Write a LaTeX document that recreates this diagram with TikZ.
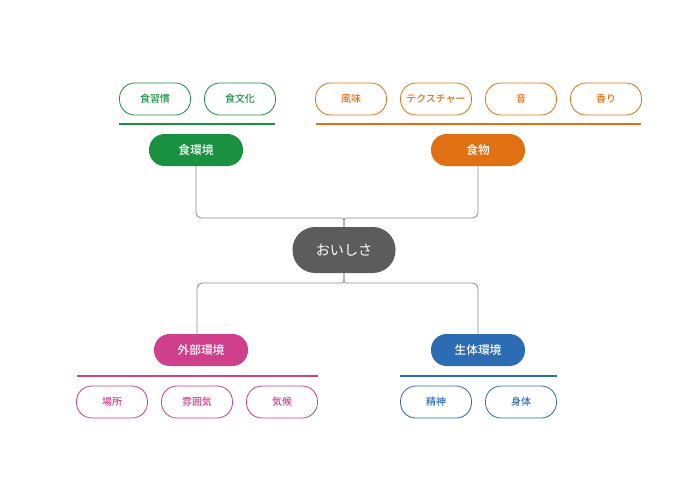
\documentclass[tikz,border=0pt]{standalone}
\usepackage{fontspec}
\setmainfont{Noto Sans CJK JP}
\newfontfamily\medfont{Noto Sans CJK JP}[UprightFont={* Medium}]
\usetikzlibrary{calc}
\definecolor{kgreen}{HTML}{1A9140}
\definecolor{korange}{HTML}{E07012}
\definecolor{kmagenta}{HTML}{CF3F8C}
\definecolor{kblue}{HTML}{2B6CB3}
\definecolor{hubgray}{HTML}{5C5C5C}
\definecolor{linkgray}{HTML}{8A8A8A}
\begin{document}
\begin{tikzpicture}[x=0.03cm,y=-0.03cm,
  hub/.style={fill=hubgray,text=white,rounded corners=0.68cm,minimum width=3.09cm,minimum height=1.38cm,inner sep=0pt,font=\fontsize{12}{14}\selectfont},
  cat/.style={fill=#1,text=white,rounded corners=0.47cm,minimum width=2.82cm,minimum height=0.96cm,inner sep=0pt,font=\medfont\fontsize{10}{12}\selectfont},
  leaf/.style={draw=#1,text=#1,line width=0.7pt,rounded corners=0.46cm,minimum width=2.13cm,minimum height=0.96cm,inner sep=0pt,font=\medfont\fontsize{8.5}{10}\selectfont},
  bar/.style={line width=2.3pt},
  link/.style={draw=linkgray,line width=0.7pt}]
  \useasboundingbox (0,0) rectangle (700,500);
  % centre and the four groups
  \node[hub] (oishisa) at (344,250) {おいしさ};
  \node[cat=kgreen] (shokukankyo) at (196,150) {食環境};
  \node[cat=korange] (shokumotsu) at (478,150) {食物};
  \node[cat=kmagenta] (gaibu) at (201,350) {外部環境};
  \node[cat=kblue] (seitai) at (478,350) {生体環境};
  % leaves
  \node[leaf=kgreen] (shukan) at (155,99) {食習慣};
  \node[leaf=kgreen] (bunka) at (240,99) {食文化};
  \node[leaf=korange] (fumi) at (351,99) {風味};
  \node[leaf=korange] (texture) at (436,99) {テクスチャー};
  \node[leaf=korange] (oto) at (521,99) {音};
  \node[leaf=korange] (kaori) at (606,99) {香り};
  \node[leaf=kmagenta] (basho) at (112,402) {場所};
  \node[leaf=kmagenta] (funiki) at (197,402) {雰囲気};
  \node[leaf=kmagenta] (kiko) at (282,402) {気候};
  \node[leaf=kblue] (seishin) at (436,402) {精神};
  \node[leaf=kblue] (shintai) at (521,402) {身体};
  % bars
  \draw[bar,kgreen] (119,124) -- (275,124);
  \draw[bar,korange] (316,124) -- (641,124);
  \draw[bar,kmagenta] (77,376) -- (318,376);
  \draw[bar,kblue] (400,376) -- (557,376);
  % links
  \draw[link,rounded corners=5] (shokukankyo.south) |- (336,218) .. controls (344,218) .. (oishisa.north);
  \draw[link,rounded corners=5] (shokumotsu.south) |- (352,218) .. controls (344,218) .. (oishisa.north);
  \draw[link,rounded corners=5] (oishisa.south) .. controls (344,283) .. (336,283) -| ($(gaibu.north)+(-4,0)$);
  \draw[link,rounded corners=5] (oishisa.south) .. controls (344,283) .. (352,283) -| (seitai.north);
\end{tikzpicture}
\end{document}
